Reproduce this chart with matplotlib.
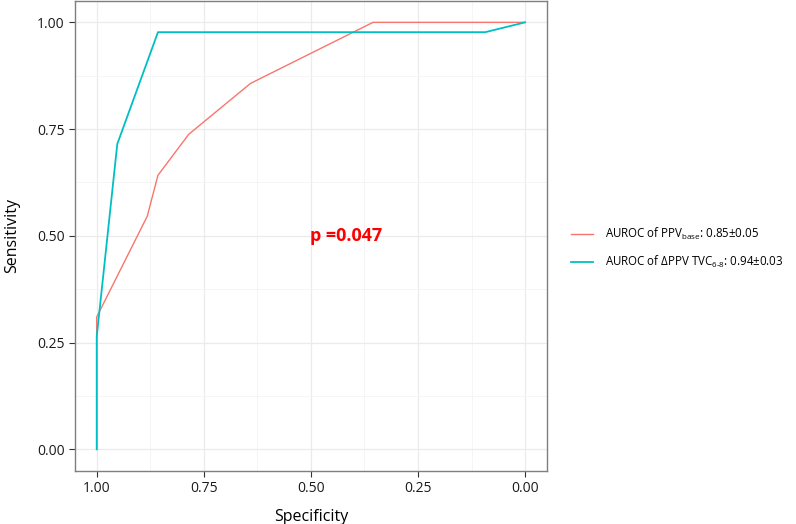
import matplotlib
matplotlib.use("Agg")
import matplotlib.pyplot as plt
import numpy as np

plt.rcParams['font.family'] = ['Open Sans', 'DejaVu Sans']
plt.rcParams['mathtext.fontset'] = 'custom'
plt.rcParams['mathtext.rm'] = 'Open Sans'
plt.rcParams['mathtext.it'] = 'Open Sans'

# Data (specificity, sensitivity)
ppv_spec = [1.00, 1.00, 0.882, 0.857, 0.785, 0.641, 0.355, 0.00]
ppv_sens = [0.00, 0.31, 0.546, 0.642, 0.738, 0.857, 1.00, 1.00]
dppv_spec = [1.00, 1.00, 0.952, 0.857, 0.093, 0.00]
dppv_sens = [0.00, 0.264, 0.715, 0.977, 0.977, 1.00]

labels = ["AUROC of PPV$_{\\mathrm{base}}$: 0.85\u00b10.05",
          "AUROC of \u0394PPV TVC$_{\\mathrm{6\u20108}}$: 0.94\u00b10.03"]
ticks = [1.00, 0.75, 0.50, 0.25, 0.00]
tick_labels = ["1.00", "0.75", "0.50", "0.25", "0.00"]
annot = "p =0.047"

fig = plt.figure(figsize=(7.96, 5.24), dpi=100)
ax = fig.add_axes([75.3/796, 1 - 470.7/524, (546.5-75.3)/796, (470.7-1)/524])

ax.plot(ppv_spec, ppv_sens, color='#F8766D', lw=1.0, label=labels[0], zorder=3)
ax.plot(dppv_spec, dppv_sens, color='#00BFC4', lw=1.3, label=labels[1], zorder=4)

ax.set_xlim(1.05, -0.05)
ax.set_ylim(-0.05, 1.05)
ax.set_xticks(ticks)
ax.set_xticklabels(tick_labels)
ax.set_yticks(ticks)
ax.set_yticklabels(tick_labels)
ax.set_xticks([0.875, 0.625, 0.375, 0.125], minor=True)
ax.set_yticks([0.875, 0.625, 0.375, 0.125], minor=True)
ax.grid(which='major', color='#EBEBEB', lw=0.9)
ax.grid(which='minor', color='#F4F4F4', lw=0.6)
ax.set_axisbelow(True)
ax.tick_params(which='minor', length=0)
ax.tick_params(which='major', length=4, width=0.8, color='#333333',
               labelsize=10, labelcolor='#1a1a1a', pad=3.5)
for s in ax.spines.values():
    s.set_color('#7f7f7f')
    s.set_linewidth(1.0)

ax.set_xlabel("Specificity", fontsize=11.5, labelpad=9)
ax.set_ylabel("Sensitivity", fontsize=11.5, labelpad=12)

ax.text(0.503, 0.50, annot, color='#FF0000', fontsize=13, fontweight='bold',
        ha='left', va='center')

leg = fig.legend(loc='center left', bbox_to_anchor=(561/796, 1 - 248/524),
                 frameon=False, fontsize=8.3, handlelength=1.9,
                 labelspacing=1.0, handletextpad=1.0)

fig.savefig("out.png", dpi=100)
